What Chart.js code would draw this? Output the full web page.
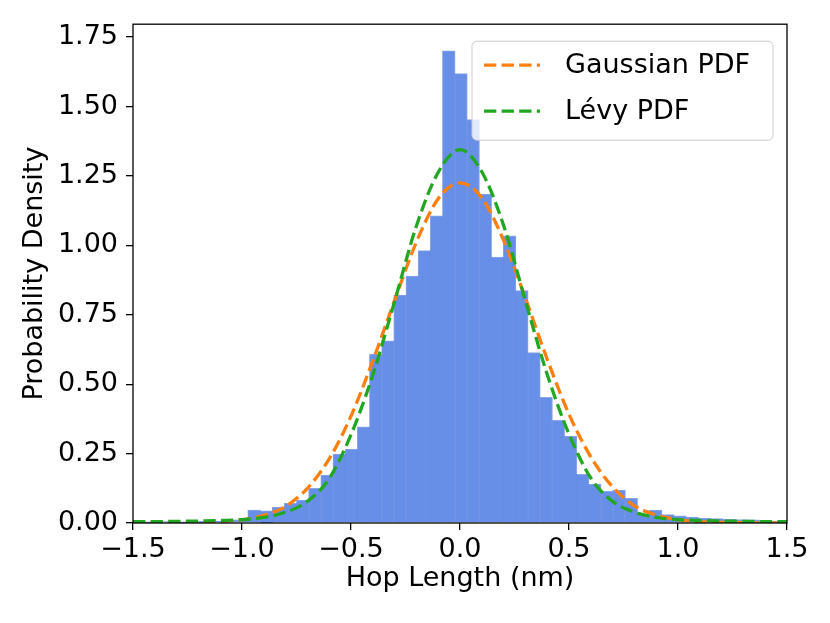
<!DOCTYPE html>
<html>
<head>
<meta charset="utf-8">
<script src="https://cdn.jsdelivr.net/npm/chart.js@4.4.1/dist/chart.umd.min.js"></script>
<style>
  body { margin: 0; background: #fff; }
  #wrap { width: 830px; height: 623px; }
</style>
</head>
<body>
<div id="wrap"><canvas id="graficoHop" width="830" height="623"></canvas></div>
<script>
// bin centres (nm) and histogram density
var binCenters = [-1.5023, -1.4465, -1.3907, -1.3349, -1.2791, -1.2233, -1.1675, -1.1117, -1.0559, -1.0001,
  -0.9443, -0.8885, -0.8327, -0.7769, -0.7211, -0.6653, -0.6095, -0.5537, -0.4979, -0.4421,
  -0.3863, -0.3305, -0.2747, -0.2189, -0.1631, -0.1073, -0.0515, 0.0043, 0.0601, 0.1159,
  0.1717, 0.2275, 0.2833, 0.3391, 0.3949, 0.4507, 0.5065, 0.5623, 0.6181, 0.6739,
  0.7297, 0.7855, 0.8413, 0.8971, 0.9529, 1.0087, 1.0645, 1.1203, 1.1761, 1.2319,
  1.2877, 1.3435, 1.3993, 1.4551, 1.5109];
var densidade = [0.003, 0.003, 0.002, 0.004, 0.003, 0.004, 0.005, 0.006, 0.010, 0.010,
  0.046, 0.043, 0.056, 0.070, 0.082, 0.124, 0.172, 0.247, 0.265, 0.345,
  0.607, 0.655, 0.820, 0.888, 0.980, 1.105, 1.700, 1.618, 1.452, 1.184,
  0.957, 1.033, 0.836, 0.613, 0.452, 0.369, 0.311, 0.174, 0.138, 0.113,
  0.118, 0.088, 0.031, 0.046, 0.029, 0.025, 0.020, 0.017, 0.015, 0.012,
  0.011, 0.010, 0.008, 0.006, 0.005];

// fitted curves
var curveX = [-1.5, -1.4, -1.3, -1.2, -1.1, -1.0, -0.9, -0.8, -0.7, -0.6, -0.5, -0.4, -0.3, -0.2, -0.1,
  0.0, 0.1, 0.2, 0.3, 0.4, 0.5, 0.6, 0.7, 0.8, 0.9, 1.0, 1.1, 1.2, 1.3, 1.4, 1.5];
var gaussianPdf = [0.000, 0.000, 0.001, 0.002, 0.005, 0.012, 0.028, 0.060, 0.125, 0.231, 0.385, 0.584, 0.802, 1.012, 1.168,
  1.225, 1.171, 1.018, 0.810, 0.590, 0.392, 0.238, 0.130, 0.062, 0.029, 0.012, 0.005, 0.002, 0.001, 0.000, 0.000];
var levyPdf = [0.005, 0.005, 0.006, 0.007, 0.009, 0.012, 0.020, 0.039, 0.078, 0.160, 0.318, 0.533, 0.798, 1.070, 1.263,
  1.345, 1.265, 1.072, 0.800, 0.535, 0.320, 0.162, 0.078, 0.039, 0.020, 0.012, 0.009, 0.007, 0.006, 0.005, 0.005];

var xTicks = [-1.5, -1.0, -0.5, 0.0, 0.5, 1.0, 1.5];
var yTicks = [0, 0.25, 0.5, 0.75, 1.0, 1.25, 1.5, 1.75];

Chart.defaults.font.family = '"DejaVu Sans", sans-serif';
Chart.defaults.color = "#000";

function pontos(xs, ys) {
  return xs.map(function (x, i) { return { x: x, y: ys[i] }; });
}

// frame (all four spines) + legend drawn inside the axes
var molduraELegenda = {
  id: "molduraELegenda",
  afterDraw: function (chart) {
    var ctx = chart.ctx;
    var a = chart.chartArea;
    ctx.save();
    ctx.strokeStyle = "#000";
    ctx.lineWidth = 1.3;
    ctx.strokeRect(a.left, a.top, a.right - a.left, a.bottom - a.top);

    var w = 301, h = 99;
    var bx = a.right - 14 - w, by = a.top + 17;
    ctx.beginPath();
    ctx.roundRect(bx, by, w, h, 5);
    ctx.fillStyle = "rgba(255,255,255,0.8)";
    ctx.fill();
    ctx.strokeStyle = "#cccccc";
    ctx.lineWidth = 1;
    ctx.stroke();

    var linhas = chart.data.datasets.filter(function (d) { return d.type === "line"; });
    ctx.font = '27px "DejaVu Sans"';
    ctx.textBaseline = "middle";
    linhas.forEach(function (d, i) {
      var y = by + 24 + i * 46;
      ctx.beginPath();
      ctx.setLineDash(d.borderDash);
      ctx.strokeStyle = d.borderColor;
      ctx.lineWidth = d.borderWidth;
      ctx.moveTo(bx + 12, y);
      ctx.lineTo(bx + 68, y);
      ctx.stroke();
      ctx.setLineDash([]);
      ctx.fillStyle = "#000";
      ctx.fillText(d.label, bx + 93, y + 1);
    });
    ctx.restore();
  },
};

const ctx = document.getElementById("graficoHop").getContext("2d");

const grafico = new Chart(ctx, {
  type: "bar",
  data: {
    datasets: [
      {
        type: "line",
        label: "Gaussian PDF",
        data: pontos(curveX, gaussianPdf),
        borderColor: "#ff7f0e",
        borderWidth: 3.3,
        borderDash: [12.3, 5.3],
        pointRadius: 0,
        fill: false,
        cubicInterpolationMode: "monotone",
        order: 2,
      },
      {
        type: "line",
        label: "Lévy PDF",
        data: pontos(curveX, levyPdf),
        borderColor: "#22a722",
        borderWidth: 3.3,
        borderDash: [12.3, 5.3],
        pointRadius: 0,
        fill: false,
        cubicInterpolationMode: "monotone",
        order: 1,
      },
      {
        type: "bar",
        label: "Hop length",
        data: pontos(binCenters, densidade),
        backgroundColor: "rgb(103,143,232)",
        borderColor: "rgba(90,128,222,0.7)",
        borderWidth: 1,
        inflateAmount: 0.6,
        barPercentage: 1,
        categoryPercentage: 1,
        order: 3,
      },
    ],
  },
  options: {
    responsive: false,
    animation: false,
    layout: { padding: { top: 21, right: 43, left: 0, bottom: 0 } },
    plugins: {
      legend: { display: false },
      tooltip: { enabled: false },
    },
    scales: {
      x: {
        type: "linear",
        min: -1.5,
        max: 1.5,
        offset: false,
        afterBuildTicks: function (s) { s.ticks = xTicks.map(function (v) { return { value: v }; }); },
        afterFit: function (s) { s.height = 100; },
        grid: { display: true, drawOnChartArea: false, drawTicks: true, tickLength: 7, color: "#000", lineWidth: 1.3, offset: false },
        border: { display: false },
        ticks: {
          font: { size: 27 },
          padding: 4,
          maxRotation: 0,
          autoSkip: false,
          callback: function (v) { return (v < 0 ? "\u2212" : "") + Math.abs(v).toFixed(1); },
        },
        title: { display: true, text: "Hop Length (nm)", font: { size: 27 }, padding: { top: 0, bottom: 28 } },
      },
      y: {
        type: "linear",
        min: 0,
        max: 1.7965,
        afterBuildTicks: function (s) { s.ticks = yTicks.map(function (v) { return { value: v }; }); },
        afterFit: function (s) { s.width = 133; },
        grid: { display: true, drawOnChartArea: false, drawTicks: true, tickLength: 7, color: "#000", lineWidth: 1.3 },
        border: { display: false },
        ticks: {
          font: { size: 27 },
          padding: 8,
          callback: function (v) { return v.toFixed(2); },
        },
        title: { display: true, text: "Probability Density", font: { size: 27 }, padding: { top: 19, bottom: 0 } },
      },
    },
  },
  plugins: [molduraELegenda],
});
</script>
</body>
</html>
